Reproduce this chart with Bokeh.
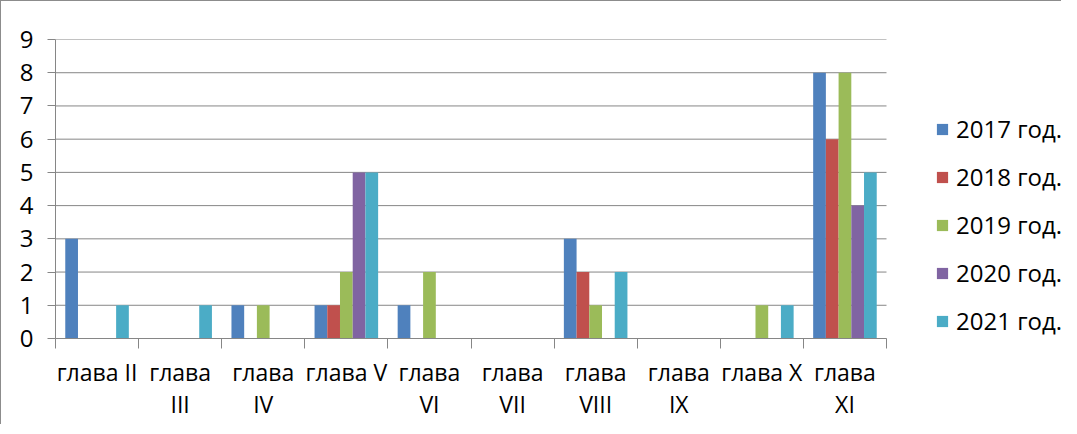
from bokeh.plotting import figure
from bokeh.models import (Range1d, FixedTicker, LinearAxis, Legend, LegendItem)
from bokeh.embed import file_html
from bokeh.resources import INLINE

categories = ["глава II", "глава III", "глава IV", "глава V", "глава VI",
              "глава VII", "глава VIII", "глава IX", "глава X", "глава XI"]
tick_labels = ["глава II", "глава\nIII", "глава\nIV", "глава V", "глава\nVI",
               "глава\nVII", "глава\nVIII", "глава\nIX", "глава X", "глава\nXI"]

series_names = ["2017 год.", "2018 год.", "2019 год.", "2020 год.", "2021 год."]
v2017 = [3, 0, 1, 1, 1, 0, 3, 0, 0, 8]
v2018 = [0, 0, 0, 1, 0, 0, 2, 0, 0, 6]
v2019 = [0, 0, 1, 2, 2, 0, 1, 0, 1, 8]
v2020 = [0, 0, 0, 5, 0, 0, 0, 0, 0, 4]
v2021 = [1, 1, 0, 5, 0, 0, 2, 0, 1, 5]
series_values = [v2017, v2018, v2019, v2020, v2021]
colors = ["#4F81BD", "#C0504D", "#9BBB59", "#8064A2", "#4BACC6"]
y_ticks = list(range(0, 10))

FONT = "Open Sans"
GRID = "#868686"
n = len(categories)
x_end = 1006 / 83.1  # plot area extends under the legend

p = figure(width=1061, height=424, output_backend="svg", toolbar_location=None,
           x_range=Range1d(0, x_end), y_range=Range1d(0, 9),
           min_border_left=55, min_border_top=39, min_border_right=0,
           min_border_bottom=86, x_axis_location=None, y_axis_location=None)
p.outline_line_color = None
p.background_fill_color = "white"
p.border_fill_alpha = 0
p.styles = {"box-shadow": "inset 1px 1px 0 #8c8c8c"}
p.xgrid.visible = False
p.ygrid.visible = False

# horizontal gridlines across the category area only
p.segment(x0=[0] * len(y_ticks), x1=[n] * len(y_ticks), y0=y_ticks, y1=y_ticks,
          line_color=GRID, line_width=1)

bw = 0.153
items = []
for k, (name, vals, c) in enumerate(zip(series_names, series_values, colors)):
    xs = [i + 0.5 + (k - 2) * bw for i in range(n)]
    r = p.vbar(x=xs, top=vals, width=bw, bottom=0, fill_color=c, line_color=None)
    items.append(LegendItem(label=name, renderers=[r]))

# y axis
yax = LinearAxis(ticker=FixedTicker(ticks=y_ticks))
yax.axis_line_color = GRID
yax.major_tick_line_color = GRID
yax.major_tick_out = 8
yax.major_tick_in = 0
yax.minor_tick_line_color = None
yax.major_label_standoff = 14
yax.major_label_text_font = FONT
yax.major_label_text_font_size = "24px"
yax.major_label_text_color = "black"
p.add_layout(yax, "left")

centers = [i + 0.5 for i in range(n)]
bounds = list(range(n + 1))

xax = LinearAxis(ticker=FixedTicker(ticks=centers, minor_ticks=bounds), bounds=(0, n))
xax.major_label_overrides = {c: t for c, t in zip(centers, tick_labels)}
xax.axis_line_color = GRID
xax.major_tick_line_color = None
xax.major_tick_out = 0
xax.major_tick_in = 0
xax.minor_tick_line_color = GRID
xax.minor_tick_out = 10
xax.minor_tick_in = 0
xax.major_label_standoff = 7
xax.major_label_text_font = FONT
xax.major_label_text_font_size = "23px"
xax.major_label_text_line_height = 1.02
xax.major_label_text_color = "black"
p.add_layout(xax, "below")

legend = Legend(items=items, location=(880, 1))
legend.border_line_color = None
legend.background_fill_alpha = 0
legend.padding = 0
legend.margin = 0
legend.glyph_width = 14
legend.glyph_height = 14
legend.label_height = 14
legend.spacing = 15
legend.label_standoff = 7
legend.label_text_font = FONT
legend.label_text_font_size = "24px"
legend.label_text_color = "black"
p.add_layout(legend, "center")

open("out.html", "w").write(file_html(p, INLINE))
